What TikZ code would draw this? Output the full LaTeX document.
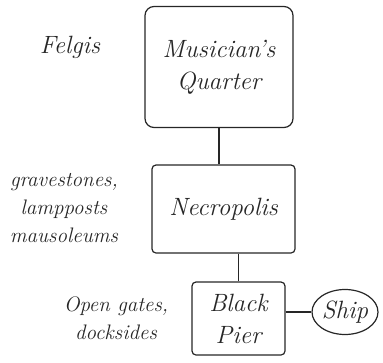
\documentclass[tikz,border=0pt]{standalone}
\usetikzlibrary{shapes.geometric}
\begin{document}
\begin{tikzpicture}[x=1pt,y=-1pt,
  sketch/.style={draw=black!85, line width=1.2pt},
  boxnode/.style={sketch, rectangle, rounded corners=4pt, align=center, inner sep=0pt},
  note/.style={align=center, inner sep=0pt, text=black!85, font=\itshape\fontsize{21}{28}\selectfont},
  big/.style={font=\itshape\fontsize{25}{32}\selectfont, text=black!85}
]
\useasboundingbox (0,0) rectangle (383,362);
\node[boxnode, big, minimum width=148pt, minimum height=121pt, rounded corners=9pt] (mq) at (219,67) {Musician's\\Quarter};
\node[boxnode, big, minimum width=143pt, minimum height=88pt] (nec) at (223.5,209) {Necropolis};
\node[boxnode, big, minimum width=93pt, minimum height=73pt] (pier) at (238.5,318.5) {Black\\Pier};
\node[sketch, ellipse, big, minimum width=66pt, minimum height=45pt, inner sep=0pt] (ship) at (345,312) {Ship};
\node[note, font=\itshape\fontsize{25}{28}\selectfont] (felgis) at (70,47) {Felgis};
\node[note] (grave) at (64,208) {gravestones,\\lampposts\\mausoleums};
\node[note] (gates) at (116,318) {Open gates,\\docksides};
\draw[sketch] (mq.south) -- (mq.south |- nec.north);
\draw[sketch] (pier.north |- nec.south) -- (pier.north);
\draw[sketch] (ship.west -| pier.east) -- (ship.west);
\end{tikzpicture}
\end{document}
